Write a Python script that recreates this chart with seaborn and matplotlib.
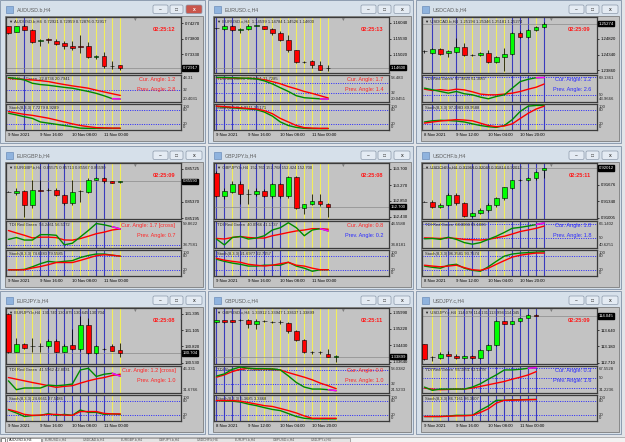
"""
Nine MT4 style H4 chart windows: candles, TDI and Stochastic sub windows.
"""

import numpy as np
import matplotlib
matplotlib.use("Agg")
import matplotlib.pyplot as plt
from matplotlib.patches import Rectangle, FancyBboxPatch
import seaborn as sns

# ---------------------------------------------------------------- data
# candles are (open, high, low, close)
AUDUSD_CANDLES = [
    (0.7417, 0.7419, 0.7395, 0.7397), (0.7400, 0.7418, 0.7399, 0.7417),
    (0.7419, 0.7424, 0.7405, 0.7407), (0.7407, 0.7410, 0.7367, 0.7370),
    (0.7372, 0.7379, 0.7357, 0.7377), (0.7378, 0.7382, 0.7368, 0.7375),
    (0.7373, 0.7379, 0.7360, 0.7364), (0.7367, 0.7372, 0.7349, 0.7357),
    (0.7359, 0.7372, 0.7347, 0.7352), (0.7357, 0.7392, 0.7337, 0.7354),
    (0.7357, 0.7369, 0.7322, 0.7325), (0.7325, 0.7332, 0.7319, 0.7329),
    (0.7329, 0.7339, 0.7292, 0.7299), (0.7299, 0.7314, 0.7290, 0.7298),
    (0.7300, 0.7300, 0.7285, 0.72917),
]
AUDUSD_TDI_RED = [48.3, 47.5, 46.5, 46.0, 45.0, 43.7, 41.5, 39.5, 37.6, 36.0, 34.3, 31.5, 29.0, 26.5, 24.1]
AUDUSD_TDI_GREEN = [49.2, 48.0, 46.0, 41.3, 39.5, 38.5, 37.0, 35.5, 34.3, 32.0, 29.7, 27.0, 23.5, 19.5, 19.0]
AUDUSD_STO_MAIN = [67, 60, 52, 45, 30, 25, 20, 15, 10, 4, 3, 3, 3, 3, 3]
AUDUSD_STO_SIGNAL = [74, 68, 62, 58, 52, 46, 38, 30, 22, 15, 10, 6, 5, 4, 4]
AUDUSD_PRICE_TICKS = ["0.74270", "0.73800", "0.73330"]

EURUSD_CANDLES = [
    (1.1588, 1.1589, 1.1586, 1.1587), (1.1583, 1.1599, 1.1580, 1.1595),
    (1.1595, 1.1597, 1.1578, 1.1580), (1.1580, 1.1588, 1.1572, 1.1585),
    (1.1585, 1.1599, 1.1580, 1.1593), (1.1595, 1.1597, 1.1594, 1.1596),
    (1.1593, 1.1595, 1.1583, 1.1585), (1.1585, 1.1588, 1.1566, 1.1570),
    (1.1570, 1.1577, 1.1545, 1.1550), (1.1548, 1.1566, 1.1510, 1.1516),
    (1.1516, 1.1518, 1.1475, 1.1478), (1.1479, 1.1481, 1.1475, 1.1478),
    (1.1481, 1.1484, 1.1459, 1.1470), (1.1470, 1.1481, 1.1452, 1.1454),
    (1.1459, 1.1470, 1.1448, 1.1460),
]
EURUSD_TDI_RED = [59.5, 59.5, 59.0, 58.5, 58.5, 58.0, 56.0, 52.7, 49.0, 44.0, 40.0, 35.5, 32.0, 28.0, 24.0]
EURUSD_TDI_GREEN = [60.0, 60.0, 59.5, 59.0, 58.5, 57.5, 54.0, 48.7, 42.0, 35.5, 28.0, 24.5, 23.5, 22.5, 22.0]
EURUSD_STO_MAIN = [96, 93, 90, 87, 85, 82, 72, 55, 30, 15, 7, 3, 2, 2, 2]
EURUSD_STO_SIGNAL = [97, 95, 92, 90, 87, 85, 78, 65, 45, 30, 15, 6, 4, 3, 3]
EURUSD_PRICE_TICKS = ["1.16040", "1.15530", "1.15020"]

USDCAD_CANDLES = [
    (1.2444, 1.2448, 1.2440, 1.2444), (1.2439, 1.2454, 1.2437, 1.2451),
    (1.2451, 1.2453, 1.2434, 1.2436), (1.2438, 1.2449, 1.2427, 1.2444),
    (1.2442, 1.2484, 1.2439, 1.2457), (1.2457, 1.2469, 1.2429, 1.2434),
    (1.2434, 1.2437, 1.2431, 1.2433), (1.2433, 1.2442, 1.2431, 1.2439),
    (1.2439, 1.2449, 1.2409, 1.2411), (1.2411, 1.2431, 1.2409, 1.2427),
    (1.2427, 1.2454, 1.2384, 1.2437), (1.2437, 1.2502, 1.2434, 1.2500),
    (1.2500, 1.2505, 1.2485, 1.2488), (1.2488, 1.2512, 1.2485, 1.2508),
    (1.2508, 1.2520, 1.2505, 1.2518), (1.2518, 1.2532, 1.2516, 1.25274),
]
USDCAD_TDI_RED = [56, 54.7, 55.5, 54.7, 56, 55.3, 53.5, 51.3, 50.6, 50.6, 51.3, 52.2, 53.8, 56, 57.9, 61]
USDCAD_TDI_GREEN = [57, 55.4, 53.8, 52.2, 53.8, 51.6, 50.6, 48.4, 46.8, 49.0, 50.6, 57.0, 63.3, 65.5, 67.0, 67.2]
USDCAD_STO_MAIN = [30, 35, 37, 36, 34, 30, 22, 15, 10, 7, 15, 40, 75, 97, 100, 100]
USDCAD_STO_SIGNAL = [25, 30, 34, 37, 40, 38, 35, 25, 15, 10, 13, 22, 45, 67, 85, 97]
USDCAD_PRICE_TICKS = ["1.24820", "1.24340", "1.23860"]

EURGBP_CANDLES = [
    (0.85477, 0.85480, 0.85474, 0.85477), (0.85459, 0.85512, 0.85441, 0.85484),
    (0.85484, 0.85494, 0.85210, 0.85335), (0.85335, 0.85601, 0.85299, 0.85494),
    (0.85494, 0.85608, 0.85487, 0.85490), (0.85494, 0.85512, 0.85487, 0.85501),
    (0.85501, 0.85512, 0.85430, 0.85441), (0.85441, 0.85452, 0.85335, 0.85352),
    (0.85352, 0.85601, 0.85335, 0.85477), (0.85484, 0.85494, 0.85370, 0.85487),
    (0.85477, 0.85629, 0.85466, 0.85608), (0.85608, 0.85640, 0.85601, 0.85629),
    (0.85629, 0.85636, 0.85570, 0.85587), (0.85587, 0.85590, 0.85570, 0.85576),
    (0.85580, 0.85594, 0.85576, 0.85590),
]
EURGBP_TDI_RED = [53.1, 50.5, 48.0, 45.2, 46.0, 46.0, 45.5, 43.0, 42.8, 44.5, 47.0, 49.7, 51.4, 53.7, 54.8]
EURGBP_TDI_GREEN = [43.6, 45.6, 42.9, 42.9, 48.7, 48.7, 48.0, 37.8, 39.5, 46.3, 53.1, 60.6, 59.2, 57.2, 54.8]
EURGBP_STO_MAIN = [22, 22, 24, 35, 48, 58, 54, 58, 61, 74, 83, 89, 89, 84, 80]
EURGBP_STO_SIGNAL = [22, 22, 22, 30, 36, 44, 53, 53, 53, 62, 72, 82, 86, 84, 80]
EURGBP_PRICE_TICKS = ["0.85725", "0.85370", "0.85195"]

GBPJPY_CANDLES = [
    (153.595, 153.650, 152.950, 152.982), (152.982, 153.201, 152.894, 153.113),
    (153.096, 153.376, 153.069, 153.306), (153.306, 153.376, 152.763, 153.025),
    (153.025, 153.157, 152.763, 153.030), (153.025, 153.201, 152.982, 153.113),
    (153.113, 153.157, 152.964, 152.982), (152.982, 153.332, 152.938, 153.288),
    (153.288, 153.332, 152.938, 152.982), (152.982, 153.507, 152.938, 153.481),
    (153.481, 153.507, 152.631, 152.658), (152.650, 152.780, 152.500, 152.763),
    (152.763, 153.025, 152.737, 152.850), (152.850, 153.025, 152.719, 152.763),
    (152.763, 152.806, 152.412, 152.700),
]
GBPJPY_TDI_RED = [37.2, 36.9, 37.7, 38.2, 37.7, 37.4, 37.4, 38.6, 39.4, 40.3, 41.1, 41.6, 42.3, 42.3, 42.0]
GBPJPY_TDI_GREEN = [36.9, 33.8, 37.7, 38.2, 36.9, 37.4, 38.6, 41.6, 42.8, 45.4, 42.8, 38.6, 41.6, 42.3, 41.1]
GBPJPY_STO_MAIN = [67, 58, 50.6, 45.5, 38, 38, 41.7, 41.7, 41.7, 54, 38, 29, 16, 22.5, 22.5]
GBPJPY_STO_SIGNAL = [71, 63, 58, 54, 45.5, 41.7, 38, 41.7, 48, 54, 41.7, 38, 29, 22.5, 22.5]
GBPJPY_PRICE_TICKS = ["153.700", "153.270", "152.850", "152.430"]

USDCHF_CANDLES = [
    (0.91327, 0.91340, 0.91313, 0.91327), (0.91327, 0.91360, 0.91206, 0.91226),
    (0.91226, 0.91293, 0.91192, 0.91259), (0.91259, 0.91495, 0.91239, 0.91461),
    (0.91461, 0.91495, 0.91259, 0.91293), (0.91293, 0.91327, 0.91024, 0.91038),
    (0.91038, 0.91125, 0.91011, 0.91105), (0.91105, 0.91192, 0.91078, 0.91159),
    (0.91159, 0.91293, 0.91125, 0.91259), (0.91259, 0.91427, 0.91226, 0.91394),
    (0.91394, 0.91629, 0.91360, 0.91616), (0.91616, 0.91777, 0.91595, 0.91763),
    (0.91763, 0.91790, 0.91750, 0.91770), (0.91770, 0.91824, 0.91750, 0.91810),
    (0.91810, 0.91952, 0.91777, 0.91931), (0.91978, 0.92020, 0.91817, 0.92012),
]
USDCHF_TDI_RED = [50.8, 50.4, 50.0, 50.8, 50.0, 48.9, 48.5, 48.1, 48.9, 50.8, 52.7, 55.4, 58.4, 60.3, 62.3, 65.0]
USDCHF_TDI_GREEN = [49.6, 50.0, 48.9, 51.5, 48.9, 45.0, 43.1, 45.0, 48.9, 52.7, 57.3, 62.3, 63.4, 65.0, 66.8, 68.8]
USDCHF_STO_MAIN = [38, 32.8, 29, 41.7, 45.5, 29, 20, 16, 35, 58, 80, 89, 93, 95, 97, 99]
USDCHF_STO_SIGNAL = [41.7, 38, 35, 38, 41.7, 31.5, 22.5, 20, 29, 45.5, 61, 76, 84, 89, 93, 93]
USDCHF_PRICE_TICKS = ["0.91676", "0.91340", "0.91005"]

EURJPY_CANDLES = [
    (131.395, 131.400, 130.700, 130.730), (130.725, 130.973, 130.713, 130.858),
    (130.858, 130.886, 130.782, 130.800), (130.820, 130.973, 130.725, 130.818),
    (130.818, 130.886, 130.713, 130.822), (130.820, 130.944, 130.800, 130.915),
    (130.915, 130.944, 130.713, 130.725), (130.725, 130.858, 130.713, 130.829),
    (130.840, 131.118, 130.759, 130.771), (130.771, 131.349, 130.742, 131.187),
    (131.187, 131.320, 130.684, 130.701), (130.701, 130.840, 130.684, 130.829),
    (130.775, 130.786, 130.759, 130.771), (130.829, 130.858, 130.742, 130.742),
    (130.753, 130.886, 130.626, 130.704),
]
EURJPY_TDI_RED = [39.9, 38.6, 37.3, 36.0, 34.8, 33.5, 32.2, 33.0, 33.5, 35.5, 37.3, 38.8, 39.9, 41.5, 42.5]
EURJPY_TDI_GREEN = [37.3, 30.4, 31.7, 31.7, 31.7, 34.0, 33.5, 34.0, 34.8, 45.8, 47.1, 40.7, 42.5, 43.2, 41.0]
EURJPY_STO_MAIN = [42.5, 30, 15, 19, 20, 27, 20, 24, 20, 42.5, 32.5, 32.5, 24, 26, 24]
EURJPY_STO_SIGNAL = [45, 36, 24, 20, 21, 24, 24, 21, 20, 36, 36, 36, 28, 26, 26]
EURJPY_PRICE_TICKS = ["131.395", "131.105", "130.820", "130.530"]

GBPUSD_CANDLES = [
    (1.35542, 1.35650, 1.35520, 1.35622), (1.35622, 1.35650, 1.35520, 1.35542),
    (1.35622, 1.35640, 1.35530, 1.35558), (1.35654, 1.35702, 1.35574, 1.35650),
    (1.35654, 1.35702, 1.35254, 1.35462), (1.35462, 1.35702, 1.35222, 1.35590),
    (1.35590, 1.35654, 1.35542, 1.35586), (1.35542, 1.35590, 1.35494, 1.35538),
    (1.35538, 1.35622, 1.35462, 1.35542), (1.35494, 1.35542, 1.35030, 1.35094),
    (1.35094, 1.35142, 1.34662, 1.34710), (1.34710, 1.34742, 1.34070, 1.34102),
    (1.34102, 1.34150, 1.34022, 1.34098), (1.34098, 1.34182, 1.34022, 1.34102),
    (1.34022, 1.34262, 1.33862, 1.33894), (1.33895, 1.33974, 1.33622, 1.33899),
]
GBPUSD_TDI_RED = [44.0, 48.2, 54.2, 58.4, 60.2, 59.0, 59.0, 58.4, 57.2, 52.4, 48.2, 44.0, 39.2, 33.2, 28.4, 23.0]
GBPUSD_TDI_GREEN = [46.0, 50.0, 58.4, 62.6, 60.2, 59.6, 59.6, 59.0, 57.2, 46.4, 34.4, 26.0, 22.4, 22.4, 21.2, 19.4]
GBPUSD_STO_MAIN = [82.5, 80, 80, 76, 67.5, 61, 52.5, 45, 40, 27.5, 15, 7.5, 5, 5, 5, 5]
GBPUSD_STO_SIGNAL = [82.5, 82.5, 82.5, 80, 74, 67.5, 61, 57.5, 49, 40, 30, 17.5, 7.5, 7.5, 7.5, 7.5]
GBPUSD_PRICE_TICKS = ["1.35990", "1.35220", "1.34430", "1.33640"]

USDJPY_CANDLES = [
    (113.234, 113.250, 112.790, 112.808), (112.855, 112.903, 112.761, 112.857),
    (112.837, 112.997, 112.808, 112.950), (112.950, 113.045, 112.884, 112.903),
    (112.903, 112.950, 112.808, 112.837), (112.837, 112.920, 112.820, 112.903),
    (112.903, 112.920, 112.820, 112.837), (112.837, 113.092, 112.808, 113.064),
    (113.073, 113.234, 113.045, 113.205), (113.205, 113.942, 113.186, 113.895),
    (113.895, 113.914, 113.801, 113.820), (113.820, 113.910, 113.800, 113.895),
    (113.895, 114.000, 113.880, 113.990), (113.990, 114.100, 113.980, 114.084),
    (114.084, 114.100, 114.030, 114.045),
]
USDJPY_TDI_RED = [32, 30, 29, 29.5, 30.2, 30.2, 32, 35, 38, 41, 44, 48.2, 51.8, 56, 62]
USDJPY_TDI_GREEN = [33.8, 27.8, 30.2, 30.2, 30.2, 30.2, 33.8, 39.8, 48.2, 56, 65, 65, 66.2, 68, 69.2]
USDJPY_STO_MAIN = [15, 15, 15, 17, 20, 20, 20, 41.6, 59.6, 83.6, 83.6, 86, 86, 87, 87]
USDJPY_STO_SIGNAL = [15, 15, 15, 16, 17.6, 18, 20, 32, 47.6, 71.6, 83.6, 84, 85, 86, 87]
USDJPY_PRICE_TICKS = ["113.640", "113.180", "112.710"]

TIME_LABELS_A = ["9 Nov 2021", "9 Nov 16:00", "10 Nov 08:00", "11 Nov 00:00"]
TIME_LABELS_B = ["8 Nov 2021", "9 Nov 12:00", "10 Nov 04:00", "10 Nov 20:00"]

# ---------------------------------------------------------------- style
W, H = 625, 442
MDI_BG = "#e2e5e9"
FRAME = "#d6e0ea"
CHART_BG = "#c3c3c3"
YELLOW = "#f2ee5c"
BLUE = "#3a3abd"
LEVEL = "#2424ff"
A_RED = "#ff2626"
A_BLUE = "#2b2bff"

# one entry per window, row by row
PANELS = [
    dict(title="AUDUSD.b,H4", head="0.72921 0.72959 0.72876 0.72917", timer="02:25:12",
         candles=AUDUSD_CANDLES, ticks=AUDUSD_PRICE_TICKS, cur="0.72917", ylim=(0.7277, 0.7445),
         tdi=(AUDUSD_TDI_RED, AUDUSD_TDI_GREEN), tdi_ylim=(14.8, 53.0), levels=[32],
         tdi_labels=[("48.31", "top"), ("32", 32), ("20.4031", "bottom")],
         tdi_text="22.8736 20.7941", sto=(AUDUSD_STO_MAIN, AUDUSD_STO_SIGNAL), sto_text="7.7279 8.9289",
         angles=(("1.2", A_RED), ("2.8", A_RED)), vl=".ybyyyyyyyyyyyy", times=TIME_LABELS_A, active=True),
    dict(title="EURUSD.c,H4", head="1.14599 1.14784 1.14526 1.14600", timer="02:25:13",
         candles=EURUSD_CANDLES, ticks=EURUSD_PRICE_TICKS, cur="1.14600", ylim=(1.1443, 1.1623),
         tdi=(EURUSD_TDI_RED, EURUSD_TDI_GREEN), tdi_ylim=(17.0, 64.3), levels=[50, 32],
         tdi_labels=[("58.483", "top"), ("32", 32), ("20.0451", "bottom")],
         tdi_text="24.0451 21.7285", sto=(EURUSD_STO_MAIN, EURUSD_STO_SIGNAL), sto_text="4.9211 3.5171",
         angles=(("1.7", A_RED), ("1.4", A_RED)), vl="bbbyybyyyyyyyyy", times=TIME_LABELS_A),
    dict(title="USDCAD.b,H4", head="1.25194 1.25346 1.25181 1.25274", timer="02:25:09",
         candles=USDCAD_CANDLES, ticks=USDCAD_PRICE_TICKS, cur="1.25274", ylim=(1.2378, 1.2548),
         tdi=(USDCAD_TDI_RED, USDCAD_TDI_GREEN), tdi_ylim=(43.7, 69.6), levels=[68, 50],
         tdi_labels=[("69.1361", "top"), ("50", 50), ("43.9666", "bottom")],
         tdi_text="67.9825 61.3067", sto=(USDCAD_STO_MAIN, USDCAD_STO_SIGNAL), sto_text="97.2983 89.9588",
         angles=(("1.2", A_BLUE), ("2.6", A_BLUE)), vl=".byybyyyyyybbbyb", times=TIME_LABELS_B),
    dict(title="EURGBP.b,H4", head="0.85575 0.85713 0.85567 0.85590", timer="02:25:09",
         candles=EURGBP_CANDLES, ticks=EURGBP_PRICE_TICKS, cur="0.85590", ylim=(0.85185, 0.85785),
         tdi=(EURGBP_TDI_RED, EURGBP_TDI_GREEN), tdi_ylim=(34.4, 63.3), levels=[37.8],
         tdi_labels=[("59.8622", "top"), ("38.7581", "bottom")],
         tdi_text="56.2461 56.5172", sto=(EURGBP_STO_MAIN, EURGBP_STO_SIGNAL), sto_text="74.6283 79.5585",
         angles=(("1.7 [cross]", A_RED), ("0.7", A_RED)), vl=".yyybbybyyybbyy", times=TIME_LABELS_A),
    dict(title="GBPJPY.b,H4", head="152.760 152.768 152.424 152.700", timer="02:25:08",
         candles=GBPJPY_CANDLES, ticks=GBPJPY_PRICE_TICKS, cur="152.700", ylim=(152.368, 153.858),
         tdi=(GBPJPY_TDI_RED, GBPJPY_TDI_GREEN), tdi_ylim=(32.2, 46.3), levels=[],
         tdi_labels=[("44.5588", "top"), ("34.8181", "bottom")],
         tdi_text="40.0966 41.1737", sto=(GBPJPY_STO_MAIN, GBPJPY_STO_SIGNAL), sto_text="21.6977 22.7157",
         angles=(("0.8", A_RED), ("0.2", A_BLUE)), vl="bbybybbbbyyyyyy", times=TIME_LABELS_A),
    dict(title="USDCHF.b,H4", head="0.91968 0.92040 0.91814 0.92012", timer="02:25:11",
         candles=USDCHF_CANDLES, ticks=USDCHF_PRICE_TICKS, cur="0.92012", ylim=(0.90977, 0.92113),
         tdi=(USDCHF_TDI_RED, USDCHF_TDI_GREEN), tdi_ylim=(38.5, 71.1), levels=[68, 50],
         tdi_labels=[("66.1402", "top"), ("50", 50), ("40.6251", "bottom")],
         tdi_text="68.8066 65.1036", sto=(USDCHF_STO_MAIN, USDCHF_STO_SIGNAL), sto_text="96.3581 93.7574",
         angles=(("1.8", A_BLUE), ("1.8", A_BLUE)), vl=".yybyybybyybbbbb", times=TIME_LABELS_B),
    dict(title="EURJPY.b,H4", head="130.740 130.875 130.645 130.704", timer="02:25:08",
         candles=EURJPY_CANDLES, ticks=EURJPY_PRICE_TICKS, cur="130.704", ylim=(130.511, 131.493),
         tdi=(EURJPY_TDI_RED, EURJPY_TDI_GREEN), tdi_ylim=(27.8, 48.9), levels=[],
         tdi_labels=[("46.331", "top"), ("31.6766", "bottom")],
         tdi_text="41.5962 42.8031", sto=(EURJPY_STO_MAIN, EURJPY_STO_SIGNAL), sto_text="24.6661 27.5486",
         angles=(("1.2 [cross]", A_RED), ("1.0", A_RED)), vl=".yyyybbbbbbbbyy", times=TIME_LABELS_A),
    dict(title="GBPUSD.c,H4", head="1.33912 1.33947 1.33637 1.33899", timer="02:25:11",
         candles=GBPUSD_CANDLES, ticks=GBPUSD_PRICE_TICKS, cur="1.33899", ylim=(1.33542, 1.36214),
         tdi=(GBPUSD_TDI_RED, GBPUSD_TDI_GREEN), tdi_ylim=(15.2, 64.4), levels=[57.2, 32],
         tdi_labels=[("58.0382", "top"), ("32", 32), ("21.5233", "bottom")],
         tdi_text="23.0013 21.2468", sto=(GBPUSD_STO_MAIN, GBPUSD_STO_SIGNAL), sto_text="5.3685 3.3468",
         angles=(("0.9", A_RED), ("1.0", A_RED)), vl="bbbbyyyyyyyyyyyy", times=TIME_LABELS_B),
    dict(title="USDJPY.c,H4", head="114.078 114.131 113.994 114.045", timer="02:25:09",
         candles=USDJPY_CANDLES, ticks=USDJPY_PRICE_TICKS, cur="114.045", ylim=(112.667, 114.273),
         tdi=(USDJPY_TDI_RED, USDJPY_TDI_GREEN), tdi_ylim=(23.0, 72.2), levels=[68, 50, 32],
         tdi_labels=[("67.5528", "top"), ("50", 50), ("31.2236", "bottom")],
         tdi_text="66.1851 62.1478", sto=(USDJPY_STO_MAIN, USDJPY_STO_SIGNAL), sto_text="86.7161 86.3607",
         angles=(("0.3", A_BLUE), ("1.6", A_BLUE)), vl=".yybybbbbbbbbbb", times=TIME_LABELS_A),
]

COL_X = [0, 208, 416]
ROW_Y = [0, 146, 291]

sns.set_style("white")
plt.rcParams["font.family"] = ["Liberation Sans", "DejaVu Sans"]

fig = plt.figure(figsize=(W / 100, H / 100), dpi=100, facecolor=MDI_BG)
bg = fig.add_axes([0, 0, 1, 1])
bg.set_xlim(0, W)
bg.set_ylim(H, 0)
bg.axis("off")


def px_axes(x, y, w, h):
    ax = fig.add_axes([x / W, 1 - (y + h) / H, w / W, h / H])
    ax.set_facecolor(CHART_BG)
    for s in ax.spines.values():
        s.set_color("#3b3b3b")
        s.set_linewidth(0.9)
    ax.set_xticks([])
    ax.set_yticks([])
    return ax


def side_label(ax, text, where):
    # right hand scale labels of the sub windows
    if where == "top":
        ax.text(1.012, 0.97, text, transform=ax.transAxes, fontsize=3.1, va="top", ha="left")
    elif where == "bottom":
        ax.text(1.012, 0.03, text, transform=ax.transAxes, fontsize=3.1, va="bottom", ha="left")
    else:
        ax.text(1.012, where, text, transform=ax.get_yaxis_transform(), fontsize=3.1,
                va="center", ha="left")


def window_chrome(wx, wy, title, active):
    bg.add_patch(Rectangle((wx, wy), 205, 143, fc=FRAME, ec="#8d9cb0", lw=0.7))
    bg.add_patch(Rectangle((wx + 6, wy + 6), 7, 7, fc="#8fb3de", ec="#5a7fb0", lw=0.4))
    bg.text(wx + 17, wy + 10, title, fontsize=3.8, color="#5e5e5e", va="center")
    buttons = [(153, 15, "\u2013"), (170, 13, "\u25a1"), (186, 16, "x")]
    for bx, bw, glyph in buttons:
        close = glyph == "x"
        fc = "#c9564c" if (close and active) else "#e4ebf3"
        bg.add_patch(FancyBboxPatch((wx + bx, wy + 5), bw, 8.5,
                                    boxstyle="round,pad=0,rounding_size=1.5",
                                    fc=fc, ec="#8b98aa", lw=0.5))
        bg.text(wx + bx + bw / 2, wy + 9.3, glyph, fontsize=3.6, ha="center", va="center",
                color="white" if (close and active) else "#4a4a4a", fontweight="bold")
    bg.add_patch(Rectangle((wx + 5, wy + 16), 198, 125, fc=CHART_BG, ec="#7d7d7d", lw=0.6))


def draw_window(wx, wy, p):
    window_chrome(wx, wy, p["title"], p.get("active", False))

    main = px_axes(wx + 6, wy + 17, 175, 56)
    tdi = px_axes(wx + 6, wy + 75, 175, 27)
    sto = px_axes(wx + 6, wy + 104, 175, 26)

    n = len(p["candles"])
    idx = np.arange(n)

    # session marker lines through all three panes
    for i, code in enumerate(p["vl"]):
        if code == ".":
            continue
        col = YELLOW if code == "y" else BLUE
        for ax in (main, tdi, sto):
            ax.axvline(i, color=col, lw=0.8, zorder=1)

    # candles
    o, h, l, c = (np.array(v) for v in zip(*p["candles"]))
    span = p["ylim"][1] - p["ylim"][0]
    main.axhline(float(p["cur"]), color="#8a8a8a", lw=0.5, zorder=2)
    main.vlines(idx, l, h, color="black", lw=0.55, zorder=3)
    main.bar(idx, np.maximum(np.abs(c - o), span * 0.002), bottom=np.minimum(o, c), width=0.55,
             color=np.where(c >= o, "#00ff00", "#ff0000"), edgecolor="black", linewidth=0.4, zorder=4)
    main.set_ylim(*p["ylim"])
    main.yaxis.tick_right()
    main.set_yticks([float(t) for t in p["ticks"]])
    main.set_yticklabels(p["ticks"])
    main.tick_params(axis="y", length=1.5, width=0.5, pad=1, labelsize=3.1, colors="black")
    main.text(1.008, float(p["cur"]), p["cur"], transform=main.get_yaxis_transform(),
              fontsize=3.1, color="white", va="center", ha="left",
              bbox=dict(fc="black", ec="black", pad=0.5))
    main.text(0.015, 0.955, "\u25bc " + p["title"] + "  " + p["head"], transform=main.transAxes,
              fontsize=3.0, va="top", ha="left")
    main.text(0.735, 1.0, "\u25bc", transform=main.transAxes, fontsize=3.4, color="#7d7d7d",
              va="top", ha="center")
    main.text(0.965, 0.77, p["timer"], transform=main.transAxes, fontsize=4.1, color="#ff1a1a",
              fontweight="bold", va="center", ha="right")

    # TDI
    red, green = p["tdi"]
    for lv in p["levels"]:
        tdi.axhline(lv, color=LEVEL, lw=0.7, ls=(0, (1, 1.4)), zorder=2)
    sns.lineplot(x=idx, y=red, ax=tdi, color="#ff0000", lw=1.0, zorder=4)
    sns.lineplot(x=idx, y=green, ax=tdi, color="#008a00", lw=1.0, zorder=4)
    sns.lineplot(x=idx[-2:], y=green[-2:], ax=tdi, color="#ff00ff", lw=1.1, zorder=5)
    tdi.set_ylim(*p["tdi_ylim"])
    for text, where in p["tdi_labels"]:
        side_label(tdi, text, where)
    tdi.text(0.015, 0.86, "TDI Red Green  " + p["tdi_text"], transform=tdi.transAxes,
             fontsize=3.0, va="center", ha="left")
    (cur_txt, cur_col), (prev_txt, prev_col) = p["angles"]
    tdi.text(0.968, 0.84, "Cur. Angle: " + cur_txt, transform=tdi.transAxes, fontsize=4.0,
             color=cur_col, va="center", ha="right")
    tdi.text(0.968, 0.48, "Prev. Angle: " + prev_txt, transform=tdi.transAxes, fontsize=4.0,
             color=prev_col, va="center", ha="right")

    # Stochastic
    s_main, s_sig = p["sto"]
    for lv in (80, 20):
        sto.axhline(lv, color=LEVEL, lw=0.7, ls=(0, (1, 1.4)), zorder=2)
    sns.lineplot(x=idx, y=s_main, ax=sto, color="#008a00", lw=1.0, zorder=4)
    sns.lineplot(x=idx, y=s_sig, ax=sto, color="#ff0000", lw=1.0, zorder=4)
    sto.set_ylim(-4, 106)
    side_label(sto, "100", "top")
    side_label(sto, "80", 80)
    side_label(sto, "20", 20)
    side_label(sto, "0", "bottom")
    sto.text(0.015, 0.86, "Stoch(8,3,3) " + p["sto_text"], transform=sto.transAxes,
             fontsize=3.0, va="center", ha="left")

    for ax in (main, tdi, sto):
        ax.set_xlim(-0.3, 21.6)
        ax.set_xlabel("")
        ax.set_ylabel("")
        if ax is not main:
            ax.set_yticks([])

    sto.set_xticks([0, 4, 8, 12])
    sto.set_xticklabels(p["times"], ha="left")
    sto.tick_params(axis="x", length=1.5, width=0.5, pad=0.8, labelsize=3.1, colors="black")


for k, p in enumerate(PANELS):
    draw_window(COL_X[k % 3], ROW_Y[k // 3], p)

# task bar strip at the bottom
bg.add_patch(Rectangle((0, 436.5), W, 6, fc="#f2f2f2", ec="#9a9a9a", lw=0.5))
bg.add_patch(Rectangle((1, 437.5), 4, 4.5, fc="white", ec="#555555", lw=0.5))
bg.add_patch(Rectangle((7, 437.5), 34, 4.5, fc="white", ec="#777777", lw=0.5))
bg.text(9, 440, "AUDUSD.b,H4", fontsize=2.6, va="center", ha="left", color="#333333")
bg.add_patch(Rectangle((42, 437.5), 308, 4.5, fc="#e4e4e4", ec="#8a8a8a", lw=0.5))
tabs = ["EURUSD.c,H4", "USDCAD.b,H4", "EURGBP.b,H4", "GBPJPY.b,H4", "USDCHF.b,H4",
        "EURJPY.b,H4", "GBPUSD.c,H4", "USDJPY.c,H4"]
for j, t in enumerate(tabs):
    bg.text(45 + j * 38, 440, t, fontsize=2.4, va="center", ha="left", color="#555555")

fig.savefig("out.png", dpi=100, facecolor=MDI_BG)
